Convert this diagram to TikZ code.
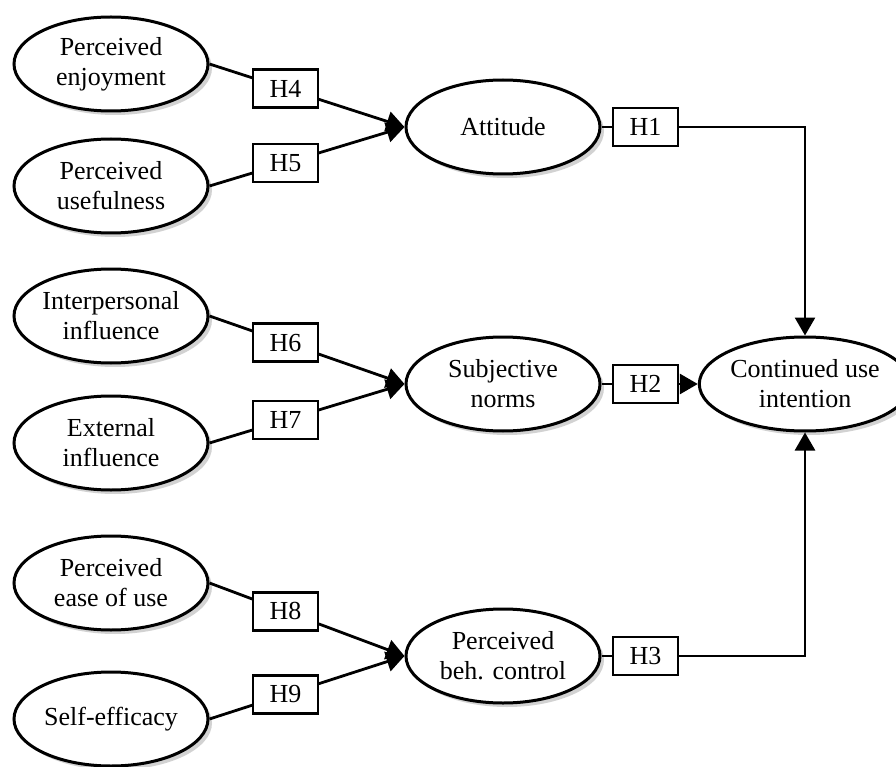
\documentclass[tikz,border=0pt]{standalone}
\usepackage{fontspec}
\setmainfont{Liberation Serif}
\usetikzlibrary{shapes.geometric,shadows,arrows.meta}
\begin{document}
\begin{tikzpicture}[x=1pt,y=-1pt,
  latent/.style={ellipse, draw, line width=3pt, fill=white,
    minimum width=194pt, minimum height=94pt, inner sep=0pt, align=center,
    font=\fontsize{26}{30}\selectfont,
    drop shadow={shadow xshift=4pt, shadow yshift=-4pt, fill=black!35}},
  hyp/.style={rectangle, draw, line width=2.2pt, fill=white,
    minimum width=65pt, minimum height=38pt, inner sep=0pt,
    font=\fontsize{26}{30}\selectfont},
  link/.style={line width=2.8pt},
  arr/.style={link, -{Triangle[length=18pt,width=20pt]}}]
\useasboundingbox (0,0) rectangle (896,767);
\node[latent] (pe)  at (111,64)  {Perceived\\enjoyment};
\node[latent] (pu)  at (111,186) {Perceived\\usefulness};
\node[latent] (ii)  at (111,316) {Interpersonal\\influence};
\node[latent] (ei)  at (111,443) {External\\influence};
\node[latent] (peu) at (111,583) {Perceived\\ease of use};
\node[latent] (se)  at (111,719) {Self-efficacy};
\node[latent] (att) at (503,127) {Attitude};
\node[latent] (sn)  at (503,384) {Subjective\\norms};
\node[latent] (pbc) at (503,656) {Perceived\\beh. control};
\node[latent] (cui) at (805,384) {Continued use\\intention};
% left links
\draw[arr] (pe.east)  -- node[hyp, pos=0.39] (h4) {H4} (att.west);
\draw[arr] (pu.east)  -- node[hyp, pos=0.39] (h5) {H5} (att.west);
\draw[arr] (ii.east)  -- node[hyp, pos=0.39] (h6) {H6} (sn.west);
\draw[arr] (ei.east)  -- node[hyp, pos=0.39] (h7) {H7} (sn.west);
\draw[arr] (peu.east) -- node[hyp, pos=0.39] (h8) {H8} (pbc.west);
\draw[arr] (se.east)  -- node[hyp, pos=0.39] (h9) {H9} (pbc.west);
% right links
\node[hyp] (h1) at (645.5,127) {H1};
\node[hyp] (h2) at (645.5,384) {H2};
\node[hyp] (h3) at (645.5,656) {H3};
\draw[link] (att.east) -- (h1.west);
\draw[link] (sn.east)  -- (h2.west);
\draw[link] (pbc.east) -- (h3.west);
\draw[arr] (h1.east) -| (cui.north);
\draw[arr] (h2.east) -- (cui.west);
\draw[arr] (h3.east) -| (cui.south);
\end{tikzpicture}
\end{document}
